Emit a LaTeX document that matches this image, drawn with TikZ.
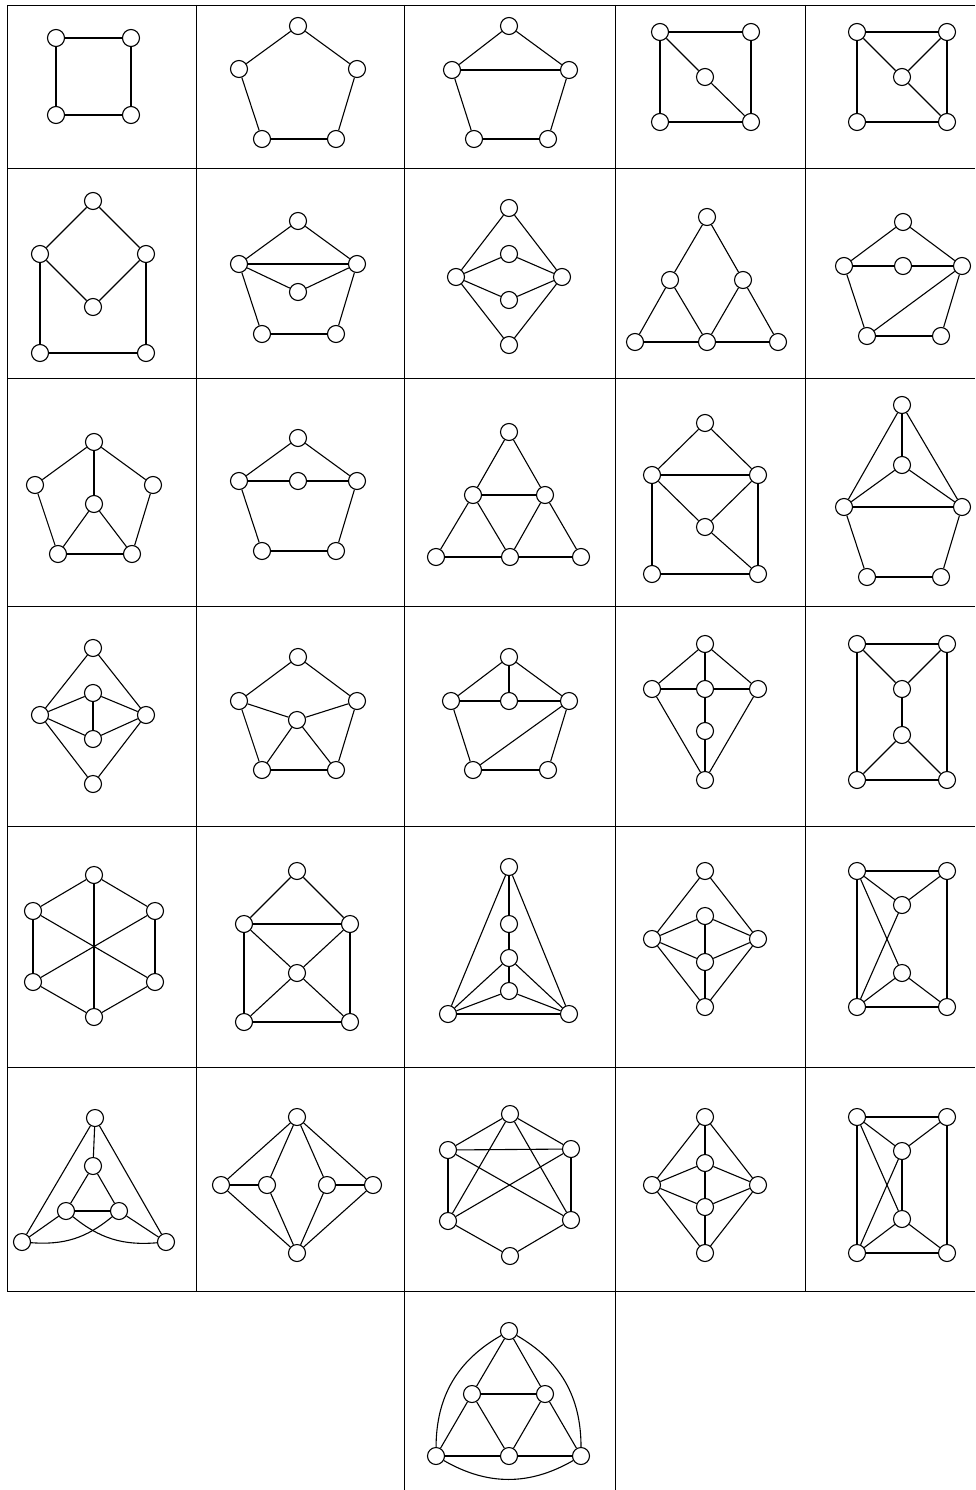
\documentclass[tikz,border=0pt]{standalone}
\begin{document}
\begin{tikzpicture}[x=1pt,y=-1pt,
  v/.style={circle,draw,fill=white,minimum size=17pt,inner sep=0pt,line width=1.1pt},
  ln/.style={line width=1.1pt},
  gridln/.style={line width=0.8pt}]
\useasboundingbox (0,0) rectangle (975,1490);
% table lines
\foreach \yy in {5,168,378,606,826,1067,1291} \draw[gridln] (7,\yy) -- (975,\yy);
\foreach \xx in {7,196,805} \draw[gridln] (\xx,5) -- (\xx,1291);
\foreach \xx in {404,615} \draw[gridln] (\xx,5) -- (\xx,1490);
\newcommand\graphX[3]{%
  \foreach \n/\x/\y in {#2} \node[v] (#1\n) at (\x,\y) {};
  \foreach \a/\b in {#3} \draw[ln] (#1\a) -- (#1\b);}
% row 1
\graphX{pa}{a/56/38,b/131/38,c/56/115,d/131/115}{a/b,b/d,d/c,c/a}
\graphX{pb}{t/298/26,l/239/69,r/357/69,bl/262/139,br/336/139}{t/l,t/r,l/bl,r/br,bl/br}
\graphX{pc}{t/509/26,l/452/70,r/569/70,bl/474/139,br/548/139}{t/l,t/r,l/bl,r/br,bl/br,l/r}
\graphX{pd}{tl/660/32,tr/751/32,c/705/77,bl/660/122,br/751/122}{tl/tr,tr/br,br/bl,bl/tl,tl/c,c/br}
\graphX{pe}{tl/857/32,tr/947/32,c/902/77,bl/857/122,br/947/122}{tl/tr,tr/br,br/bl,bl/tl,tl/c,tr/c,c/br}
% row 2
\graphX{pf}{t/93/201,l/40/254,r/146/254,m/93/307,bl/40/353,br/146/353}{t/l,t/r,l/m,r/m,l/bl,r/br,bl/br}
\graphX{pg}{t/298/221,l/239/264,r/357/264,m/298/292,bl/262/334,br/336/334}{t/l,t/r,l/r,l/m,m/r,l/bl,bl/br,br/r}
\graphX{ph}{t/509/208,l/456/277,m1/509/254,m2/509/300,b/509/345,r/562/277}{t/l,t/r,l/m1,l/m2,m1/r,m2/r,l/b,r/b}
\graphX{pi}{t/707/217,ml/670/280,mr/743/280,bl/635/342,bm/707/342,br/778/342}{t/ml,t/mr,ml/bl,ml/bm,mr/bm,mr/br,bl/bm,bm/br}
\graphX{pj}{t/903/222,l/844/266,m/903/266,r/962/266,bl/867/336,br/941/336}{t/l,t/r,l/m,m/r,l/bl,bl/br,br/r,bl/r}
% row 3
\graphX{pk}{t/94/442,l/35/485,r/153/485,c/94/504,bl/58/554,br/132/554}{t/l,t/r,t/c,l/bl,r/br,bl/br,c/bl,c/br}
\graphX{pl}{t/298/438,l/239/481,m/298/481,r/357/481,bl/262/551,br/336/551}{t/l,t/r,l/m,m/r,l/bl,bl/br,br/r}
\graphX{pm}{t/509/432,ml/473/495,mr/545/495,bl/436/557,bm/510/557,br/581/557}{t/ml,t/mr,ml/mr,ml/bl,ml/bm,mr/bm,mr/br,bl/bm,bm/br}
\graphX{pn}{t/705/423,l/652/475,r/758/475,c/705/527,bl/652/574,br/758/574}{t/l,t/r,l/r,l/c,c/r,c/br,l/bl,bl/br,r/br}
\graphX{po}{t/902/405,c/902/465,l/844/507,r/962/507,bl/867/577,br/941/577}{t/l,t/r,t/c,c/l,c/r,l/r,l/bl,bl/br,br/r}
% row 4
\graphX{pp}{t/93/648,l/40/715,r/146/715,m1/93/693,m2/93/739,b/93/784}{t/l,t/r,l/m1,l/m2,m1/m2,m1/r,m2/r,l/b,r/b}
\graphX{pq}{t/298/657,l/239/701,r/357/701,c/297/720,bl/262/770,br/336/770}{t/l,t/r,l/c,c/r,l/bl,r/br,bl/br,c/bl,c/br}
\graphX{pr}{t/509/657,l/451/701,m/509/701,r/569/701,bl/473/770,br/548/770}{t/l,t/r,t/m,l/m,m/r,l/bl,bl/br,br/r,bl/r}
\graphX{ps}{t/705/644,l/652/689,c/705/689,r/758/689,m2/705/731,b/705/780}{t/l,t/r,t/c,l/c,c/r,c/m2,m2/b,l/b,r/b}
\graphX{pt}{tl/857/644,tr/947/644,c1/902/689,c2/902/735,bl/857/780,br/947/780}{tl/tr,tl/bl,tr/br,bl/br,tl/c1,tr/c1,c1/c2,c2/bl,c2/br}
% row 5
\graphX{pu}{t/94/875,ul/33/911,ur/155/911,ll/33/982,lr/155/982,b/94/1017}{t/ul,t/ur,ul/ll,ur/lr,ll/b,lr/b,t/b,ul/lr,ur/ll}
\graphX{pv}{t/297/871,l/244/924,r/350/924,c/297/973,bl/244/1022,br/350/1022}{t/l,t/r,l/r,l/c,r/c,c/bl,c/br,l/bl,r/br,bl/br}
\graphX{pw}{t/509/867,m1/509/924,m2/509/958,m3/509/991,bl/448/1014,br/569/1014}{t/bl,t/br,t/m1,m1/m2,m2/m3,m2/bl,m2/br,m3/bl,m3/br,bl/br}
\graphX{px}{t/705/871,l/652/939,r/758/939,m1/705/916,m2/705/962,b/705/1007}{t/l,t/r,l/m1,m1/r,l/m2,m2/r,m1/m2,m2/b,l/b,r/b}
\graphX{py}{tl/857/871,tr/947/871,c1/902/905,c2/902/973,bl/857/1007,br/947/1007}{tl/tr,tl/bl,tr/br,bl/br,tl/c1,tr/c1,c1/bl,tl/c2,c2/bl,c2/br}
% row 6
\graphX{pz}{t/95/1118,m/93/1166,l/66/1211,r/119/1211,bl/22/1242,br/166/1242}{t/m,t/bl,t/br,m/l,m/r,l/r,l/bl,r/br}
\draw[ln] (pzbl) to[bend right=22] (pzr);
\draw[ln] (pzl) to[bend right=22] (pzbr);
\graphX{qa}{t/297/1117,l/221/1185,ml/267/1185,mr/327/1185,r/373/1185,b/297/1253}{t/l,t/ml,t/mr,t/r,l/ml,mr/r,l/b,ml/b,mr/b,r/b}
\graphX{qb}{t/510/1114,ul/448/1150,ur/571/1149,ll/448/1221,lr/571/1220,b/510/1256}{t/ul,t/ur,t/ll,t/lr,ul/ur,ul/ll,ul/lr,ur/lr,ur/ll,ll/b,lr/b}
\graphX{qc}{t/705/1117,l/652/1185,r/758/1185,m1/705/1163,m2/705/1207,b/705/1253}{t/l,t/r,t/m1,m1/m2,m2/b,l/m1,m1/r,l/m2,m2/r,l/b,r/b}
\graphX{qd}{tl/857/1117,tr/947/1117,c1/902/1151,c2/902/1219,bl/857/1253,br/947/1253}{tl/tr,tl/bl,tr/br,bl/br,tl/c1,tr/c1,c1/bl,tl/c2,c2/bl,c2/br,c1/c2}
% row 7
\graphX{qe}{t/509/1331,ml/472/1394,mr/545/1394,bl/436/1456,bm/509/1456,br/581/1456}{t/ml,t/mr,ml/mr,ml/bl,ml/bm,mr/bm,mr/br,bl/bm,bm/br}
\draw[ln] (qet) to[bend right=30] (qebl);
\draw[ln] (qebl) to[bend right=30] (qebr);
\draw[ln] (qebr) to[bend right=30] (qet);
\end{tikzpicture}
\end{document}
